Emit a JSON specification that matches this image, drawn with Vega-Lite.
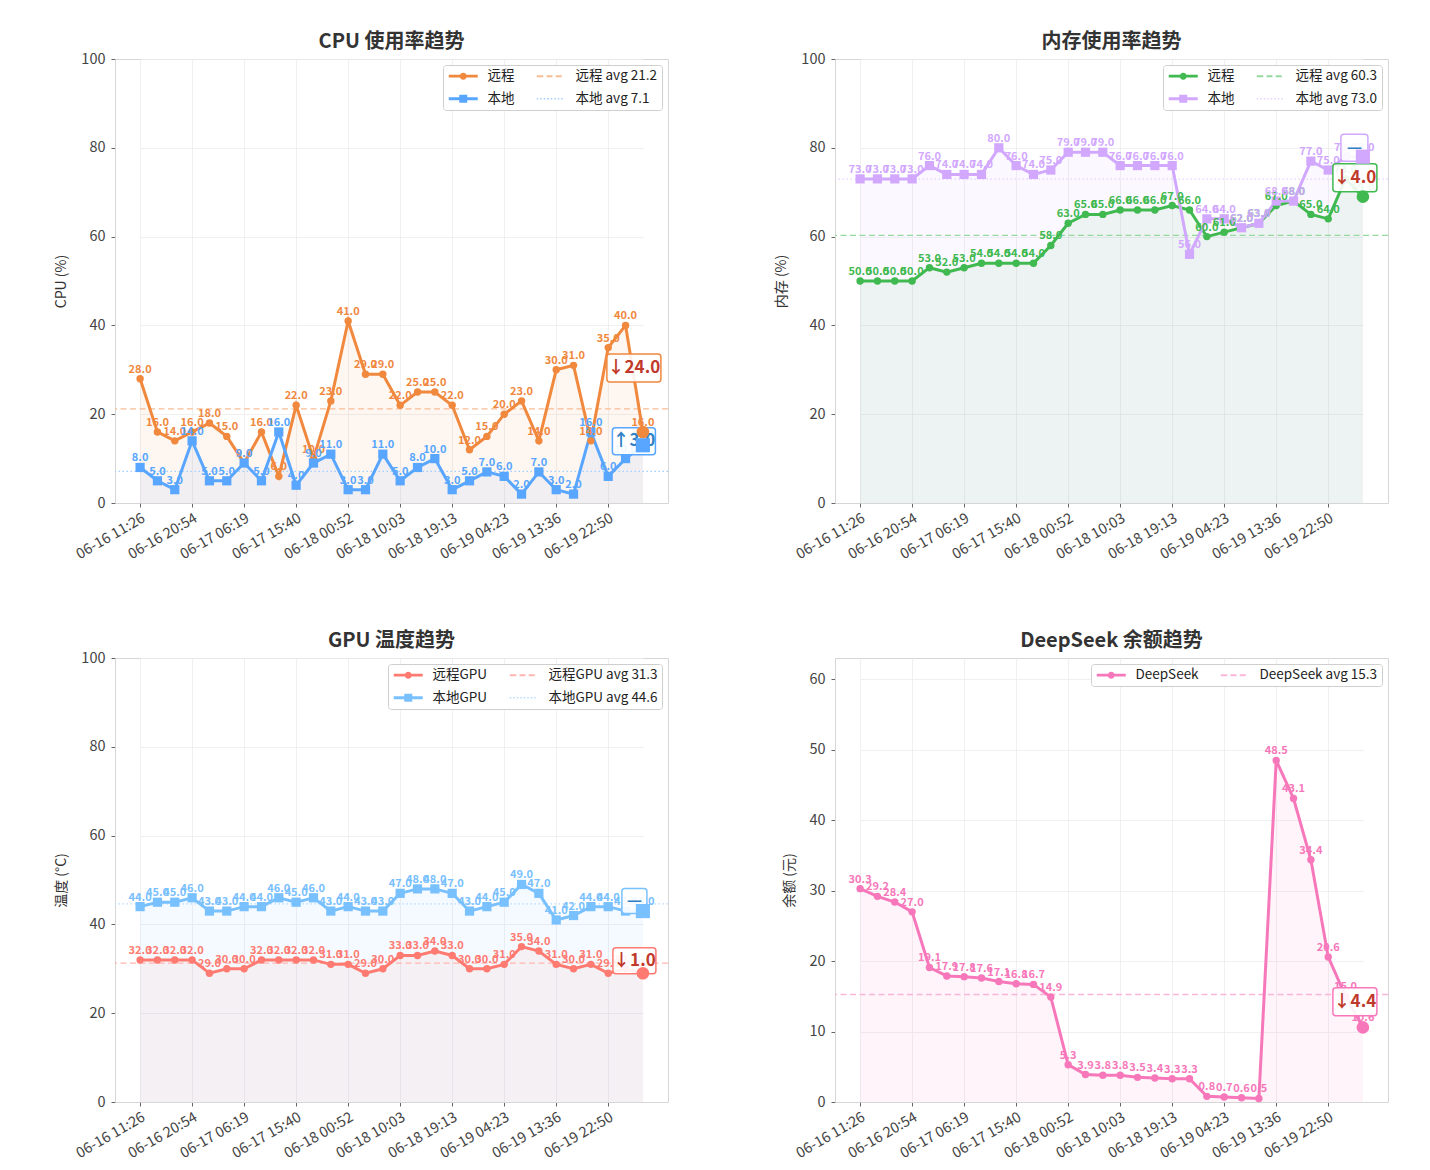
{
"$schema": "https://vega.github.io/schema/vega-lite/v6.json",
"background": "white",
"padding": {"left": 54, "top": 31, "right": 5, "bottom": 5},
"bounds": "flush",
"columns": 2,
"spacing": {"row": 155, "column": 167},
"resolve": {"scale": {"color": "independent", "x": "independent", "y": "independent"}, "legend": {"color": "independent"}},
"config": {
 "font": "Noto Sans CJK SC",
 "view": {"stroke": "#d6d6d6", "strokeWidth": 1},
 "axis": {"gridColor": "#ececec", "gridWidth": 0.8, "domainColor": "#d6d6d6", "tickColor": "#666666", "tickSize": 4, "labelFontSize": 14.5, "labelColor": "#444444", "titleFontSize": 14, "titleColor": "#333333", "titleFontWeight": "normal", "labelPadding": 4},
 "axisY": {"titlePadding": 12, "labelPadding": 6},
 "title": {"fontSize": 20, "fontWeight": "bold", "color": "#333333", "offset": -1},
 "legend": {"orient": "top-right", "offset": 6, "columns": 2, "columnPadding": 20, "rowPadding": 8, "fillColor": "white", "strokeColor": "#cfcfcf", "cornerRadius": 3, "padding": 4, "symbolSize": 100, "labelOffset": 27, "labelFontSize": 13.5, "labelColor": "#222222"}
},
"datasets": {
 "cpu": [
{"t":"06-16 11:26","s":"远程","v":28},{"t":"06-16 14:35","s":"远程","v":16},{"t":"06-16 17:45","s":"远程","v":14},{"t":"06-16 20:54","s":"远程","v":16},{"t":"06-17 00:02","s":"远程","v":18},{"t":"06-17 03:10","s":"远程","v":15},{"t":"06-17 06:19","s":"远程","v":9},{"t":"06-17 09:26","s":"远程","v":16},{"t":"06-17 12:33","s":"远程","v":6},{"t":"06-17 15:40","s":"远程","v":22},{"t":"06-17 18:44","s":"远程","v":10},{"t":"06-17 21:48","s":"远程","v":23},{"t":"06-18 00:52","s":"远程","v":41},{"t":"06-18 03:56","s":"远程","v":29},{"t":"06-18 07:00","s":"远程","v":29},{"t":"06-18 10:03","s":"远程","v":22},{"t":"06-18 13:06","s":"远程","v":25},{"t":"06-18 16:10","s":"远程","v":25},{"t":"06-18 19:13","s":"远程","v":22},{"t":"06-18 22:16","s":"远程","v":12},{"t":"06-19 01:20","s":"远程","v":15},{"t":"06-19 04:23","s":"远程","v":20},{"t":"06-19 07:27","s":"远程","v":23},{"t":"06-19 10:32","s":"远程","v":14},{"t":"06-19 13:36","s":"远程","v":30},{"t":"06-19 16:40","s":"远程","v":31},{"t":"06-19 19:45","s":"远程","v":14},{"t":"06-19 22:50","s":"远程","v":35},{"t":"06-20 01:55","s":"远程","v":40},{"t":"06-20 05:00","s":"远程","v":16},
{"t":"06-16 11:26","s":"本地","v":8},{"t":"06-16 14:35","s":"本地","v":5},{"t":"06-16 17:45","s":"本地","v":3},{"t":"06-16 20:54","s":"本地","v":14},{"t":"06-17 00:02","s":"本地","v":5},{"t":"06-17 03:10","s":"本地","v":5},{"t":"06-17 06:19","s":"本地","v":9},{"t":"06-17 09:26","s":"本地","v":5},{"t":"06-17 12:33","s":"本地","v":16},{"t":"06-17 15:40","s":"本地","v":4},{"t":"06-17 18:44","s":"本地","v":9},{"t":"06-17 21:48","s":"本地","v":11},{"t":"06-18 00:52","s":"本地","v":3},{"t":"06-18 03:56","s":"本地","v":3},{"t":"06-18 07:00","s":"本地","v":11},{"t":"06-18 10:03","s":"本地","v":5},{"t":"06-18 13:06","s":"本地","v":8},{"t":"06-18 16:10","s":"本地","v":10},{"t":"06-18 19:13","s":"本地","v":3},{"t":"06-18 22:16","s":"本地","v":5},{"t":"06-19 01:20","s":"本地","v":7},{"t":"06-19 04:23","s":"本地","v":6},{"t":"06-19 07:27","s":"本地","v":2},{"t":"06-19 10:32","s":"本地","v":7},{"t":"06-19 13:36","s":"本地","v":3},{"t":"06-19 16:40","s":"本地","v":2},{"t":"06-19 19:45","s":"本地","v":16},{"t":"06-19 22:50","s":"本地","v":6},{"t":"06-20 01:55","s":"本地","v":10},{"t":"06-20 05:00","s":"本地","v":13}
 ],
 "mem": [
{"t":"06-16 11:26","s":"远程","v":50},{"t":"06-16 14:35","s":"远程","v":50},{"t":"06-16 17:45","s":"远程","v":50},{"t":"06-16 20:54","s":"远程","v":50},{"t":"06-17 00:02","s":"远程","v":53},{"t":"06-17 03:10","s":"远程","v":52},{"t":"06-17 06:19","s":"远程","v":53},{"t":"06-17 09:26","s":"远程","v":54},{"t":"06-17 12:33","s":"远程","v":54},{"t":"06-17 15:40","s":"远程","v":54},{"t":"06-17 18:44","s":"远程","v":54},{"t":"06-17 21:48","s":"远程","v":58},{"t":"06-18 00:52","s":"远程","v":63},{"t":"06-18 03:56","s":"远程","v":65},{"t":"06-18 07:00","s":"远程","v":65},{"t":"06-18 10:03","s":"远程","v":66},{"t":"06-18 13:06","s":"远程","v":66},{"t":"06-18 16:10","s":"远程","v":66},{"t":"06-18 19:13","s":"远程","v":67},{"t":"06-18 22:16","s":"远程","v":66},{"t":"06-19 01:20","s":"远程","v":60},{"t":"06-19 04:23","s":"远程","v":61},{"t":"06-19 07:27","s":"远程","v":62},{"t":"06-19 10:32","s":"远程","v":63},{"t":"06-19 13:36","s":"远程","v":67},{"t":"06-19 16:40","s":"远程","v":68},{"t":"06-19 19:45","s":"远程","v":65},{"t":"06-19 22:50","s":"远程","v":64},{"t":"06-20 01:55","s":"远程","v":73},{"t":"06-20 05:00","s":"远程","v":69},
{"t":"06-16 11:26","s":"本地","v":73},{"t":"06-16 14:35","s":"本地","v":73},{"t":"06-16 17:45","s":"本地","v":73},{"t":"06-16 20:54","s":"本地","v":73},{"t":"06-17 00:02","s":"本地","v":76},{"t":"06-17 03:10","s":"本地","v":74},{"t":"06-17 06:19","s":"本地","v":74},{"t":"06-17 09:26","s":"本地","v":74},{"t":"06-17 12:33","s":"本地","v":80},{"t":"06-17 15:40","s":"本地","v":76},{"t":"06-17 18:44","s":"本地","v":74},{"t":"06-17 21:48","s":"本地","v":75},{"t":"06-18 00:52","s":"本地","v":79},{"t":"06-18 03:56","s":"本地","v":79},{"t":"06-18 07:00","s":"本地","v":79},{"t":"06-18 10:03","s":"本地","v":76},{"t":"06-18 13:06","s":"本地","v":76},{"t":"06-18 16:10","s":"本地","v":76},{"t":"06-18 19:13","s":"本地","v":76},{"t":"06-18 22:16","s":"本地","v":56},{"t":"06-19 01:20","s":"本地","v":64},{"t":"06-19 04:23","s":"本地","v":64},{"t":"06-19 07:27","s":"本地","v":62},{"t":"06-19 10:32","s":"本地","v":63},{"t":"06-19 13:36","s":"本地","v":68},{"t":"06-19 16:40","s":"本地","v":68},{"t":"06-19 19:45","s":"本地","v":77},{"t":"06-19 22:50","s":"本地","v":75},{"t":"06-20 01:55","s":"本地","v":78},{"t":"06-20 05:00","s":"本地","v":78}
 ],
 "gpu": [
{"t":"06-16 11:26","s":"远程GPU","v":32},{"t":"06-16 14:35","s":"远程GPU","v":32},{"t":"06-16 17:45","s":"远程GPU","v":32},{"t":"06-16 20:54","s":"远程GPU","v":32},{"t":"06-17 00:02","s":"远程GPU","v":29},{"t":"06-17 03:10","s":"远程GPU","v":30},{"t":"06-17 06:19","s":"远程GPU","v":30},{"t":"06-17 09:26","s":"远程GPU","v":32},{"t":"06-17 12:33","s":"远程GPU","v":32},{"t":"06-17 15:40","s":"远程GPU","v":32},{"t":"06-17 18:44","s":"远程GPU","v":32},{"t":"06-17 21:48","s":"远程GPU","v":31},{"t":"06-18 00:52","s":"远程GPU","v":31},{"t":"06-18 03:56","s":"远程GPU","v":29},{"t":"06-18 07:00","s":"远程GPU","v":30},{"t":"06-18 10:03","s":"远程GPU","v":33},{"t":"06-18 13:06","s":"远程GPU","v":33},{"t":"06-18 16:10","s":"远程GPU","v":34},{"t":"06-18 19:13","s":"远程GPU","v":33},{"t":"06-18 22:16","s":"远程GPU","v":30},{"t":"06-19 01:20","s":"远程GPU","v":30},{"t":"06-19 04:23","s":"远程GPU","v":31},{"t":"06-19 07:27","s":"远程GPU","v":35},{"t":"06-19 10:32","s":"远程GPU","v":34},{"t":"06-19 13:36","s":"远程GPU","v":31},{"t":"06-19 16:40","s":"远程GPU","v":30},{"t":"06-19 19:45","s":"远程GPU","v":31},{"t":"06-19 22:50","s":"远程GPU","v":29},{"t":"06-20 01:55","s":"远程GPU","v":30},{"t":"06-20 05:00","s":"远程GPU","v":29},
{"t":"06-16 11:26","s":"本地GPU","v":44},{"t":"06-16 14:35","s":"本地GPU","v":45},{"t":"06-16 17:45","s":"本地GPU","v":45},{"t":"06-16 20:54","s":"本地GPU","v":46},{"t":"06-17 00:02","s":"本地GPU","v":43},{"t":"06-17 03:10","s":"本地GPU","v":43},{"t":"06-17 06:19","s":"本地GPU","v":44},{"t":"06-17 09:26","s":"本地GPU","v":44},{"t":"06-17 12:33","s":"本地GPU","v":46},{"t":"06-17 15:40","s":"本地GPU","v":45},{"t":"06-17 18:44","s":"本地GPU","v":46},{"t":"06-17 21:48","s":"本地GPU","v":43},{"t":"06-18 00:52","s":"本地GPU","v":44},{"t":"06-18 03:56","s":"本地GPU","v":43},{"t":"06-18 07:00","s":"本地GPU","v":43},{"t":"06-18 10:03","s":"本地GPU","v":47},{"t":"06-18 13:06","s":"本地GPU","v":48},{"t":"06-18 16:10","s":"本地GPU","v":48},{"t":"06-18 19:13","s":"本地GPU","v":47},{"t":"06-18 22:16","s":"本地GPU","v":43},{"t":"06-19 01:20","s":"本地GPU","v":44},{"t":"06-19 04:23","s":"本地GPU","v":45},{"t":"06-19 07:27","s":"本地GPU","v":49},{"t":"06-19 10:32","s":"本地GPU","v":47},{"t":"06-19 13:36","s":"本地GPU","v":41},{"t":"06-19 16:40","s":"本地GPU","v":42},{"t":"06-19 19:45","s":"本地GPU","v":44},{"t":"06-19 22:50","s":"本地GPU","v":44},{"t":"06-20 01:55","s":"本地GPU","v":43},{"t":"06-20 05:00","s":"本地GPU","v":43}
 ],
 "ds": [
{"t":"06-16 11:26","s":"DeepSeek","v":30.3},{"t":"06-16 14:35","s":"DeepSeek","v":29.2},{"t":"06-16 17:45","s":"DeepSeek","v":28.4},{"t":"06-16 20:54","s":"DeepSeek","v":27.0},{"t":"06-17 00:02","s":"DeepSeek","v":19.1},{"t":"06-17 03:10","s":"DeepSeek","v":17.9},{"t":"06-17 06:19","s":"DeepSeek","v":17.8},{"t":"06-17 09:26","s":"DeepSeek","v":17.6},{"t":"06-17 12:33","s":"DeepSeek","v":17.1},{"t":"06-17 15:40","s":"DeepSeek","v":16.8},{"t":"06-17 18:44","s":"DeepSeek","v":16.7},{"t":"06-17 21:48","s":"DeepSeek","v":14.9},{"t":"06-18 00:52","s":"DeepSeek","v":5.3},{"t":"06-18 03:56","s":"DeepSeek","v":3.9},{"t":"06-18 07:00","s":"DeepSeek","v":3.8},{"t":"06-18 10:03","s":"DeepSeek","v":3.8},{"t":"06-18 13:06","s":"DeepSeek","v":3.5},{"t":"06-18 16:10","s":"DeepSeek","v":3.4},{"t":"06-18 19:13","s":"DeepSeek","v":3.3},{"t":"06-18 22:16","s":"DeepSeek","v":3.3},{"t":"06-19 01:20","s":"DeepSeek","v":0.8},{"t":"06-19 04:23","s":"DeepSeek","v":0.7},{"t":"06-19 07:27","s":"DeepSeek","v":0.6},{"t":"06-19 10:32","s":"DeepSeek","v":0.5},{"t":"06-19 13:36","s":"DeepSeek","v":48.5},{"t":"06-19 16:40","s":"DeepSeek","v":43.1},{"t":"06-19 19:45","s":"DeepSeek","v":34.4},{"t":"06-19 22:50","s":"DeepSeek","v":20.6},{"t":"06-20 01:55","s":"DeepSeek","v":15.0},{"t":"06-20 05:00","s":"DeepSeek","v":10.6}
 ],
 "ann": [
{"p":"cpu","s":"远程","t":"06-20 05:00","v":16,"label":"↓24.0"},
{"p":"cpu","s":"本地","t":"06-20 05:00","v":13,"label":"↑3.0"},
{"p":"mem","s":"本地","t":"06-20 05:00","v":78,"label":"—"},
{"p":"mem","s":"远程","t":"06-20 05:00","v":69,"label":"↓4.0"},
{"p":"gpu","s":"本地GPU","t":"06-20 05:00","v":43,"label":"—"},
{"p":"gpu","s":"远程GPU","t":"06-20 05:00","v":29,"label":"↓1.0"},
{"p":"ds","s":"DeepSeek","t":"06-20 05:00","v":10.6,"label":"↓4.4"}
 ]
},
"concat": [
{
 "width": 553, "height": 444,
 "title": {"text": "CPU 使用率趋势"},
 "data": {"name": "cpu"},
 "layer": [
  {"mark": {"type": "area", "fillOpacity": 0.08},
   "encoding": {
    "x": {"field": "t", "type": "ordinal", "scale": {"type": "point", "range": [25.1, 527.9], "padding": 0}, "axis": {"values": ["06-16 11:26","06-16 20:54","06-17 06:19","06-17 15:40","06-18 00:52","06-18 10:03","06-18 19:13","06-19 04:23","06-19 13:36","06-19 22:50"], "labelAngle": -30, "grid": true}, "title": null},
    "y": {"field": "v", "type": "quantitative", "stack": null, "scale": {"domain": [0, 100]}, "axis": {"values": [0,20,40,60,80,100], "grid": true}, "title": "CPU (%)"},
    "color": {"field": "s", "type": "nominal", "scale": {"domain": ["远程","本地","远程 avg 21.2","本地 avg 7.1"], "range": ["#f0883e","#58a6ff","#f7bd95","#a3ceff"]},
     "legend": {"title": null, "encode": {"symbols": {"update": {
       "shape": {"signal": "indexof(datum.value,'avg')>=0 ? (indexof(datum.value,'本地')===0 ? 'M-1,-0.15h0.3v0.3h-0.3Z M-0.3,-0.15h0.3v0.3h-0.3Z M0.4,-0.15h0.3v0.3h-0.3Z M1.1,-0.15h0.3v0.3h-0.3Z M1.8,-0.15h0.3v0.3h-0.3Z M2.5,-0.15h0.3v0.3h-0.3Z M3.2,-0.15h0.3v0.3h-0.3Z M3.9,-0.15h0.3v0.3h-0.3Z' : 'M-1,-0.2H0.3V0.2H-1Z M0.95,-0.2H2.15V0.2H0.95Z M2.8,-0.2H4V0.2H2.8Z') : (indexof(datum.value,'本地')===0 ? 'M-1,-0.28H4.8V0.28H-1Z M1.1,-0.8H2.7V0.8H1.1Z' : 'M-1,-0.28H4.8V0.28H-1Z M2.6,0A0.7,0.7,0,1,1,1.2,0A0.7,0.7,0,1,1,2.6,0Z')"},
       "fill": {"signal": "indexof(datum.value,'avg')>=0 ? (indexof(datum.value,'本地')===0 ? '#a3ceff' : '#f7bd95') : (indexof(datum.value,'本地')===0 ? '#58a6ff' : '#f0883e')"},
       "stroke": {"value": "transparent"}, "strokeWidth": {"value": 0}, "opacity": {"value": 1}, "fillOpacity": {"value": 1}}}}}}
   }},
  {"transform": [{"filter": "datum.s === '远程'"}], "mark": {"type": "rule", "strokeDash": [6, 3.5], "strokeWidth": 1.3},
   "encoding": {"y": {"aggregate": "mean", "field": "v", "type": "quantitative"}, "color": {"datum": "远程 avg 21.2"}}},
  {"transform": [{"filter": "datum.s === '本地'"}], "mark": {"type": "rule", "strokeDash": [1.5, 2.5], "strokeWidth": 1.3},
   "encoding": {"y": {"aggregate": "mean", "field": "v", "type": "quantitative"}, "color": {"datum": "本地 avg 7.1"}}},
  {"mark": {"type": "line", "strokeWidth": 3},
   "encoding": {"x": {"field": "t", "type": "ordinal"}, "y": {"field": "v", "type": "quantitative"}, "color": {"field": "s", "type": "nominal"}}},
  {"transform": [{"filter": "datum.s === '远程'"}], "mark": {"type": "point", "shape": "circle", "filled": true, "size": 55, "opacity": 1},
   "encoding": {"x": {"field": "t", "type": "ordinal"}, "y": {"field": "v", "type": "quantitative"}, "color": {"field": "s", "type": "nominal"}}},
  {"transform": [{"filter": "datum.s === '本地'"}], "mark": {"type": "point", "shape": "square", "filled": true, "size": 85, "opacity": 1},
   "encoding": {"x": {"field": "t", "type": "ordinal"}, "y": {"field": "v", "type": "quantitative"}, "color": {"field": "s", "type": "nominal"}}},
  {"mark": {"type": "text", "fontSize": 11, "fontWeight": "bold", "dy": -9},
   "encoding": {"x": {"field": "t", "type": "ordinal"}, "y": {"field": "v", "type": "quantitative"}, "text": {"field": "v", "type": "quantitative", "format": ".1f"}, "color": {"field": "s", "type": "nominal"}}},
  {"data": {"name": "ann"}, "transform": [{"filter": "datum.p === 'cpu' && datum.s === '远程'"}],
   "mark": {"type": "point", "shape": "M-2.4,-1.4H2.4A0.3,0.3,0,0,1,2.7,-1.1V1.1A0.3,0.3,0,0,1,2.4,1.4H-2.4A0.3,0.3,0,0,1,-2.7,1.1V-1.1A0.3,0.3,0,0,1,-2.4,-1.4Z", "size": 400, "filled": true, "fill": "white", "fillOpacity": 0.9, "stroke": "#f0883e", "strokeWidth": 1.5, "opacity": 1, "xOffset": -9, "yOffset": -64},
   "encoding": {"x": {"field": "t", "type": "ordinal"}, "y": {"field": "v", "type": "quantitative"}}},
  {"data": {"name": "ann"}, "transform": [{"filter": "datum.p === 'cpu' && datum.s === '远程'"}],
   "mark": {"type": "text", "fontSize": 17, "fontWeight": "bold", "color": "#c0392b", "align": "center", "baseline": "middle", "dx": -9, "dy": -64},
   "encoding": {"x": {"field": "t", "type": "ordinal"}, "y": {"field": "v", "type": "quantitative"}, "text": {"field": "label"}}},
  {"data": {"name": "ann"}, "transform": [{"filter": "datum.p === 'cpu' && datum.s === '本地'"}],
   "mark": {"type": "point", "shape": "M-1.85,-1.35H1.85A0.3,0.3,0,0,1,2.15,-1.05V1.05A0.3,0.3,0,0,1,1.85,1.35H-1.85A0.3,0.3,0,0,1,-2.15,1.05V-1.05A0.3,0.3,0,0,1,-1.85,-1.35Z", "size": 400, "filled": true, "fill": "white", "fillOpacity": 0.9, "stroke": "#58a6ff", "strokeWidth": 1.5, "opacity": 1, "xOffset": -9, "yOffset": -4},
   "encoding": {"x": {"field": "t", "type": "ordinal"}, "y": {"field": "v", "type": "quantitative"}}},
  {"data": {"name": "ann"}, "transform": [{"filter": "datum.p === 'cpu' && datum.s === '本地'"}],
   "mark": {"type": "text", "fontSize": 17, "fontWeight": "bold", "color": "#2e7fc4", "align": "center", "baseline": "middle", "dx": -9, "dy": -4},
   "encoding": {"x": {"field": "t", "type": "ordinal"}, "y": {"field": "v", "type": "quantitative"}, "text": {"field": "label"}}},
  {"transform": [{"filter": "datum.s === '远程' && datum.t === '06-20 05:00'"}], "mark": {"type": "point", "shape": "circle", "filled": true, "size": 160, "opacity": 1},
   "encoding": {"x": {"field": "t", "type": "ordinal"}, "y": {"field": "v", "type": "quantitative"}, "color": {"field": "s", "type": "nominal"}}},
  {"transform": [{"filter": "datum.s === '本地' && datum.t === '06-20 05:00'"}], "mark": {"type": "point", "shape": "square", "filled": true, "size": 200, "opacity": 1},
   "encoding": {"x": {"field": "t", "type": "ordinal"}, "y": {"field": "v", "type": "quantitative"}, "color": {"field": "s", "type": "nominal"}}}
 ]
},
{
 "width": 553, "height": 444,
 "title": {"text": "内存使用率趋势"},
 "data": {"name": "mem"},
 "layer": [
  {"mark": {"type": "area", "fillOpacity": 0.08},
   "encoding": {
    "x": {"field": "t", "type": "ordinal", "scale": {"type": "point", "range": [25.1, 527.9], "padding": 0}, "axis": {"values": ["06-16 11:26","06-16 20:54","06-17 06:19","06-17 15:40","06-18 00:52","06-18 10:03","06-18 19:13","06-19 04:23","06-19 13:36","06-19 22:50"], "labelAngle": -30, "grid": true}, "title": null},
    "y": {"field": "v", "type": "quantitative", "stack": null, "scale": {"domain": [0, 100]}, "axis": {"values": [0,20,40,60,80,100], "grid": true}, "title": "内存 (%)"},
    "color": {"field": "s", "type": "nominal", "scale": {"domain": ["远程","本地","远程 avg 60.3","本地 avg 73.0"], "range": ["#3fb950","#d2a8ff","#95d99f","#e6cfff"]},
     "legend": {"title": null, "encode": {"symbols": {"update": {
       "shape": {"signal": "indexof(datum.value,'avg')>=0 ? (indexof(datum.value,'本地')===0 ? 'M-1,-0.15h0.3v0.3h-0.3Z M-0.3,-0.15h0.3v0.3h-0.3Z M0.4,-0.15h0.3v0.3h-0.3Z M1.1,-0.15h0.3v0.3h-0.3Z M1.8,-0.15h0.3v0.3h-0.3Z M2.5,-0.15h0.3v0.3h-0.3Z M3.2,-0.15h0.3v0.3h-0.3Z M3.9,-0.15h0.3v0.3h-0.3Z' : 'M-1,-0.2H0.3V0.2H-1Z M0.95,-0.2H2.15V0.2H0.95Z M2.8,-0.2H4V0.2H2.8Z') : (indexof(datum.value,'本地')===0 ? 'M-1,-0.28H4.8V0.28H-1Z M1.1,-0.8H2.7V0.8H1.1Z' : 'M-1,-0.28H4.8V0.28H-1Z M2.6,0A0.7,0.7,0,1,1,1.2,0A0.7,0.7,0,1,1,2.6,0Z')"},
       "fill": {"signal": "indexof(datum.value,'avg')>=0 ? (indexof(datum.value,'本地')===0 ? '#e6cfff' : '#95d99f') : (indexof(datum.value,'本地')===0 ? '#d2a8ff' : '#3fb950')"},
       "stroke": {"value": "transparent"}, "strokeWidth": {"value": 0}, "opacity": {"value": 1}, "fillOpacity": {"value": 1}}}}}}
   }},
  {"transform": [{"filter": "datum.s === '远程'"}], "mark": {"type": "rule", "strokeDash": [6, 3.5], "strokeWidth": 1.3},
   "encoding": {"y": {"aggregate": "mean", "field": "v", "type": "quantitative"}, "color": {"datum": "远程 avg 60.3"}}},
  {"transform": [{"filter": "datum.s === '本地'"}], "mark": {"type": "rule", "strokeDash": [1.5, 2.5], "strokeWidth": 1.3},
   "encoding": {"y": {"aggregate": "mean", "field": "v", "type": "quantitative"}, "color": {"datum": "本地 avg 73.0"}}},
  {"mark": {"type": "line", "strokeWidth": 3},
   "encoding": {"x": {"field": "t", "type": "ordinal"}, "y": {"field": "v", "type": "quantitative"}, "color": {"field": "s", "type": "nominal"}}},
  {"transform": [{"filter": "datum.s === '远程'"}], "mark": {"type": "point", "shape": "circle", "filled": true, "size": 55, "opacity": 1},
   "encoding": {"x": {"field": "t", "type": "ordinal"}, "y": {"field": "v", "type": "quantitative"}, "color": {"field": "s", "type": "nominal"}}},
  {"transform": [{"filter": "datum.s === '本地'"}], "mark": {"type": "point", "shape": "square", "filled": true, "size": 85, "opacity": 1},
   "encoding": {"x": {"field": "t", "type": "ordinal"}, "y": {"field": "v", "type": "quantitative"}, "color": {"field": "s", "type": "nominal"}}},
  {"mark": {"type": "text", "fontSize": 11, "fontWeight": "bold", "dy": -9},
   "encoding": {"x": {"field": "t", "type": "ordinal"}, "y": {"field": "v", "type": "quantitative"}, "text": {"field": "v", "type": "quantitative", "format": ".1f"}, "color": {"field": "s", "type": "nominal"}}},
  {"data": {"name": "ann"}, "transform": [{"filter": "datum.p === 'mem' && datum.s === '本地'"}],
   "mark": {"type": "point", "shape": "M-1.05,-1.35H1.05A0.3,0.3,0,0,1,1.35,-1.05V1.05A0.3,0.3,0,0,1,1.05,1.35H-1.05A0.3,0.3,0,0,1,-1.35,1.05V-1.05A0.3,0.3,0,0,1,-1.05,-1.35Z", "size": 400, "filled": true, "fill": "white", "fillOpacity": 0.9, "stroke": "#d2a8ff", "strokeWidth": 1.5, "opacity": 1, "xOffset": -8.5, "yOffset": -9},
   "encoding": {"x": {"field": "t", "type": "ordinal"}, "y": {"field": "v", "type": "quantitative"}}},
  {"data": {"name": "ann"}, "transform": [{"filter": "datum.p === 'mem' && datum.s === '本地'"}],
   "mark": {"type": "text", "fontSize": 17, "fontWeight": "bold", "color": "#2e7fc4", "align": "center", "baseline": "middle", "dx": -8.5, "dy": -9},
   "encoding": {"x": {"field": "t", "type": "ordinal"}, "y": {"field": "v", "type": "quantitative"}, "text": {"field": "label"}}},
  {"data": {"name": "ann"}, "transform": [{"filter": "datum.p === 'mem' && datum.s === '远程'"}],
   "mark": {"type": "point", "shape": "M-1.9,-1.4H1.9A0.3,0.3,0,0,1,2.2,-1.1V1.1A0.3,0.3,0,0,1,1.9,1.4H-1.9A0.3,0.3,0,0,1,-2.2,1.1V-1.1A0.3,0.3,0,0,1,-1.9,-1.4Z", "size": 400, "filled": true, "fill": "white", "fillOpacity": 0.9, "stroke": "#3fb950", "strokeWidth": 1.5, "opacity": 1, "xOffset": -8, "yOffset": -19},
   "encoding": {"x": {"field": "t", "type": "ordinal"}, "y": {"field": "v", "type": "quantitative"}}},
  {"data": {"name": "ann"}, "transform": [{"filter": "datum.p === 'mem' && datum.s === '远程'"}],
   "mark": {"type": "text", "fontSize": 17, "fontWeight": "bold", "color": "#c0392b", "align": "center", "baseline": "middle", "dx": -8, "dy": -19},
   "encoding": {"x": {"field": "t", "type": "ordinal"}, "y": {"field": "v", "type": "quantitative"}, "text": {"field": "label"}}},
  {"transform": [{"filter": "datum.s === '远程' && datum.t === '06-20 05:00'"}], "mark": {"type": "point", "shape": "circle", "filled": true, "size": 160, "opacity": 1},
   "encoding": {"x": {"field": "t", "type": "ordinal"}, "y": {"field": "v", "type": "quantitative"}, "color": {"field": "s", "type": "nominal"}}},
  {"transform": [{"filter": "datum.s === '本地' && datum.t === '06-20 05:00'"}], "mark": {"type": "point", "shape": "square", "filled": true, "size": 200, "opacity": 1},
   "encoding": {"x": {"field": "t", "type": "ordinal"}, "y": {"field": "v", "type": "quantitative"}, "color": {"field": "s", "type": "nominal"}}}
 ]
},
{
 "width": 553, "height": 444,
 "title": {"text": "GPU 温度趋势"},
 "data": {"name": "gpu"},
 "layer": [
  {"mark": {"type": "area", "fillOpacity": 0.08},
   "encoding": {
    "x": {"field": "t", "type": "ordinal", "scale": {"type": "point", "range": [25.1, 527.9], "padding": 0}, "axis": {"values": ["06-16 11:26","06-16 20:54","06-17 06:19","06-17 15:40","06-18 00:52","06-18 10:03","06-18 19:13","06-19 04:23","06-19 13:36","06-19 22:50"], "labelAngle": -30, "grid": true}, "title": null},
    "y": {"field": "v", "type": "quantitative", "stack": null, "scale": {"domain": [0, 100]}, "axis": {"values": [0,20,40,60,80,100], "grid": true}, "title": "温度 (°C)"},
    "color": {"field": "s", "type": "nominal", "scale": {"domain": ["远程GPU","本地GPU","远程GPU avg 31.3","本地GPU avg 44.6"], "range": ["#ff7b72","#79c0ff","#ffb6b1","#b5dcff"]},
     "legend": {"title": null, "encode": {"symbols": {"update": {
       "shape": {"signal": "indexof(datum.value,'avg')>=0 ? (indexof(datum.value,'本地')===0 ? 'M-1,-0.15h0.3v0.3h-0.3Z M-0.3,-0.15h0.3v0.3h-0.3Z M0.4,-0.15h0.3v0.3h-0.3Z M1.1,-0.15h0.3v0.3h-0.3Z M1.8,-0.15h0.3v0.3h-0.3Z M2.5,-0.15h0.3v0.3h-0.3Z M3.2,-0.15h0.3v0.3h-0.3Z M3.9,-0.15h0.3v0.3h-0.3Z' : 'M-1,-0.2H0.3V0.2H-1Z M0.95,-0.2H2.15V0.2H0.95Z M2.8,-0.2H4V0.2H2.8Z') : (indexof(datum.value,'本地')===0 ? 'M-1,-0.28H4.8V0.28H-1Z M1.1,-0.8H2.7V0.8H1.1Z' : 'M-1,-0.28H4.8V0.28H-1Z M2.6,0A0.7,0.7,0,1,1,1.2,0A0.7,0.7,0,1,1,2.6,0Z')"},
       "fill": {"signal": "indexof(datum.value,'avg')>=0 ? (indexof(datum.value,'本地')===0 ? '#b5dcff' : '#ffb6b1') : (indexof(datum.value,'本地')===0 ? '#79c0ff' : '#ff7b72')"},
       "stroke": {"value": "transparent"}, "strokeWidth": {"value": 0}, "opacity": {"value": 1}, "fillOpacity": {"value": 1}}}}}}
   }},
  {"transform": [{"filter": "datum.s === '远程GPU'"}], "mark": {"type": "rule", "strokeDash": [6, 3.5], "strokeWidth": 1.3},
   "encoding": {"y": {"aggregate": "mean", "field": "v", "type": "quantitative"}, "color": {"datum": "远程GPU avg 31.3"}}},
  {"transform": [{"filter": "datum.s === '本地GPU'"}], "mark": {"type": "rule", "strokeDash": [1.5, 2.5], "strokeWidth": 1.3},
   "encoding": {"y": {"aggregate": "mean", "field": "v", "type": "quantitative"}, "color": {"datum": "本地GPU avg 44.6"}}},
  {"mark": {"type": "line", "strokeWidth": 3},
   "encoding": {"x": {"field": "t", "type": "ordinal"}, "y": {"field": "v", "type": "quantitative"}, "color": {"field": "s", "type": "nominal"}}},
  {"transform": [{"filter": "datum.s === '远程GPU'"}], "mark": {"type": "point", "shape": "circle", "filled": true, "size": 55, "opacity": 1},
   "encoding": {"x": {"field": "t", "type": "ordinal"}, "y": {"field": "v", "type": "quantitative"}, "color": {"field": "s", "type": "nominal"}}},
  {"transform": [{"filter": "datum.s === '本地GPU'"}], "mark": {"type": "point", "shape": "square", "filled": true, "size": 85, "opacity": 1},
   "encoding": {"x": {"field": "t", "type": "ordinal"}, "y": {"field": "v", "type": "quantitative"}, "color": {"field": "s", "type": "nominal"}}},
  {"mark": {"type": "text", "fontSize": 11, "fontWeight": "bold", "dy": -9},
   "encoding": {"x": {"field": "t", "type": "ordinal"}, "y": {"field": "v", "type": "quantitative"}, "text": {"field": "v", "type": "quantitative", "format": ".1f"}, "color": {"field": "s", "type": "nominal"}}},
  {"data": {"name": "ann"}, "transform": [{"filter": "datum.p === 'gpu' && datum.s === '本地GPU'"}],
   "mark": {"type": "point", "shape": "M-0.95,-1.25H0.95A0.3,0.3,0,0,1,1.25,-0.95V0.95A0.3,0.3,0,0,1,0.95,1.25H-0.95A0.3,0.3,0,0,1,-1.25,0.95V-0.95A0.3,0.3,0,0,1,-0.95,-1.25Z", "size": 400, "filled": true, "fill": "white", "fillOpacity": 0.9, "stroke": "#79c0ff", "strokeWidth": 1.5, "opacity": 1, "xOffset": -8.5, "yOffset": -10},
   "encoding": {"x": {"field": "t", "type": "ordinal"}, "y": {"field": "v", "type": "quantitative"}}},
  {"data": {"name": "ann"}, "transform": [{"filter": "datum.p === 'gpu' && datum.s === '本地GPU'"}],
   "mark": {"type": "text", "fontSize": 17, "fontWeight": "bold", "color": "#2e7fc4", "align": "center", "baseline": "middle", "dx": -8.5, "dy": -10},
   "encoding": {"x": {"field": "t", "type": "ordinal"}, "y": {"field": "v", "type": "quantitative"}, "text": {"field": "label"}}},
  {"data": {"name": "ann"}, "transform": [{"filter": "datum.p === 'gpu' && datum.s === '远程GPU'"}],
   "mark": {"type": "point", "shape": "M-1.85,-1.3H1.85A0.3,0.3,0,0,1,2.15,-1V1A0.3,0.3,0,0,1,1.85,1.3H-1.85A0.3,0.3,0,0,1,-2.15,1V-1A0.3,0.3,0,0,1,-1.85,-1.3Z", "size": 400, "filled": true, "fill": "white", "fillOpacity": 0.9, "stroke": "#ff7b72", "strokeWidth": 1.5, "opacity": 1, "xOffset": -8.5, "yOffset": -12.5},
   "encoding": {"x": {"field": "t", "type": "ordinal"}, "y": {"field": "v", "type": "quantitative"}}},
  {"data": {"name": "ann"}, "transform": [{"filter": "datum.p === 'gpu' && datum.s === '远程GPU'"}],
   "mark": {"type": "text", "fontSize": 17, "fontWeight": "bold", "color": "#c0392b", "align": "center", "baseline": "middle", "dx": -8.5, "dy": -12.5},
   "encoding": {"x": {"field": "t", "type": "ordinal"}, "y": {"field": "v", "type": "quantitative"}, "text": {"field": "label"}}},
  {"transform": [{"filter": "datum.s === '远程GPU' && datum.t === '06-20 05:00'"}], "mark": {"type": "point", "shape": "circle", "filled": true, "size": 160, "opacity": 1},
   "encoding": {"x": {"field": "t", "type": "ordinal"}, "y": {"field": "v", "type": "quantitative"}, "color": {"field": "s", "type": "nominal"}}},
  {"transform": [{"filter": "datum.s === '本地GPU' && datum.t === '06-20 05:00'"}], "mark": {"type": "point", "shape": "square", "filled": true, "size": 200, "opacity": 1},
   "encoding": {"x": {"field": "t", "type": "ordinal"}, "y": {"field": "v", "type": "quantitative"}, "color": {"field": "s", "type": "nominal"}}}
 ]
},
{
 "width": 553, "height": 444,
 "title": {"text": "DeepSeek 余额趋势", "offset": 7},
 "data": {"name": "ds"},
 "layer": [
  {"mark": {"type": "area", "fillOpacity": 0.08},
   "encoding": {
    "x": {"field": "t", "type": "ordinal", "scale": {"type": "point", "range": [25.1, 527.9], "padding": 0}, "axis": {"values": ["06-16 11:26","06-16 20:54","06-17 06:19","06-17 15:40","06-18 00:52","06-18 10:03","06-18 19:13","06-19 04:23","06-19 13:36","06-19 22:50"], "labelAngle": -30, "grid": true}, "title": null},
    "y": {"field": "v", "type": "quantitative", "stack": null, "scale": {"domain": [0, 63.05], "nice": false}, "axis": {"values": [0,10,20,30,40,50,60], "grid": true}, "title": "余额 (元)"},
    "color": {"field": "s", "type": "nominal", "scale": {"domain": ["DeepSeek","DeepSeek avg 15.3"], "range": ["#f778ba","#fbb5d9"]},
     "legend": {"title": null, "encode": {"symbols": {"update": {
       "shape": {"signal": "indexof(datum.value,'avg')>=0 ? 'M-1,-0.2H0.3V0.2H-1Z M0.95,-0.2H2.15V0.2H0.95Z M2.8,-0.2H4V0.2H2.8Z' : 'M-1,-0.28H4.8V0.28H-1Z M2.6,0A0.7,0.7,0,1,1,1.2,0A0.7,0.7,0,1,1,2.6,0Z'"},
       "fill": {"signal": "indexof(datum.value,'avg')>=0 ? '#fbb5d9' : '#f778ba'"},
       "stroke": {"value": "transparent"}, "strokeWidth": {"value": 0}, "opacity": {"value": 1}, "fillOpacity": {"value": 1}}}}}}
   }},
  {"mark": {"type": "rule", "strokeDash": [6, 3.5], "strokeWidth": 1.3},
   "encoding": {"y": {"aggregate": "mean", "field": "v", "type": "quantitative"}, "color": {"datum": "DeepSeek avg 15.3"}}},
  {"mark": {"type": "line", "strokeWidth": 3},
   "encoding": {"x": {"field": "t", "type": "ordinal"}, "y": {"field": "v", "type": "quantitative"}, "color": {"field": "s", "type": "nominal"}}},
  {"mark": {"type": "point", "shape": "circle", "filled": true, "size": 55, "opacity": 1},
   "encoding": {"x": {"field": "t", "type": "ordinal"}, "y": {"field": "v", "type": "quantitative"}, "color": {"field": "s", "type": "nominal"}}},
  {"mark": {"type": "text", "fontSize": 11, "fontWeight": "bold", "dy": -9},
   "encoding": {"x": {"field": "t", "type": "ordinal"}, "y": {"field": "v", "type": "quantitative"}, "text": {"field": "v", "type": "quantitative", "format": ".1f"}, "color": {"field": "s", "type": "nominal"}}},
  {"data": {"name": "ann"}, "transform": [{"filter": "datum.p === 'ds'"}],
   "mark": {"type": "point", "shape": "M-1.9,-1.4H1.9A0.3,0.3,0,0,1,2.2,-1.1V1.1A0.3,0.3,0,0,1,1.9,1.4H-1.9A0.3,0.3,0,0,1,-2.2,1.1V-1.1A0.3,0.3,0,0,1,-1.9,-1.4Z", "size": 400, "filled": true, "fill": "white", "fillOpacity": 0.9, "stroke": "#f778ba", "strokeWidth": 1.5, "opacity": 1, "xOffset": -8, "yOffset": -25.6},
   "encoding": {"x": {"field": "t", "type": "ordinal"}, "y": {"field": "v", "type": "quantitative"}}},
  {"data": {"name": "ann"}, "transform": [{"filter": "datum.p === 'ds'"}],
   "mark": {"type": "text", "fontSize": 17, "fontWeight": "bold", "color": "#c0392b", "align": "center", "baseline": "middle", "dx": -8, "dy": -25.6},
   "encoding": {"x": {"field": "t", "type": "ordinal"}, "y": {"field": "v", "type": "quantitative"}, "text": {"field": "label"}}},
  {"transform": [{"filter": "datum.t === '06-20 05:00'"}], "mark": {"type": "point", "shape": "circle", "filled": true, "size": 160, "opacity": 1},
   "encoding": {"x": {"field": "t", "type": "ordinal"}, "y": {"field": "v", "type": "quantitative"}, "color": {"field": "s", "type": "nominal"}}}
 ]
}
]
}
